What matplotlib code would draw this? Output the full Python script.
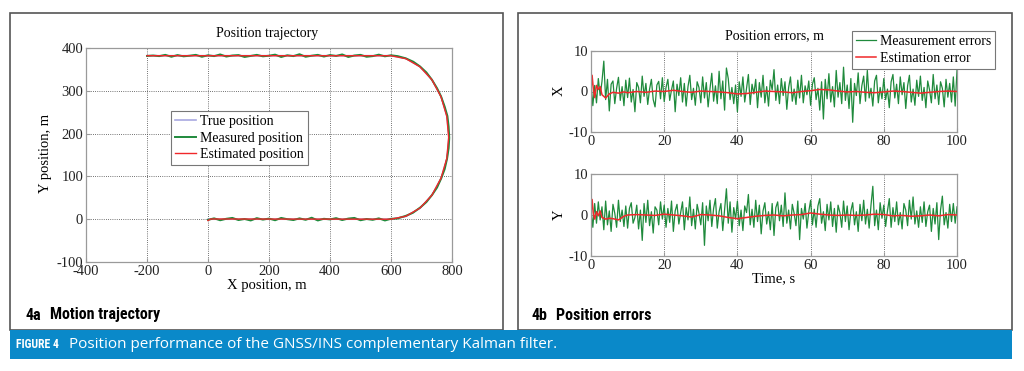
import numpy as np
import matplotlib.pyplot as plt
from matplotlib import font_manager
from matplotlib.patches import Rectangle

# ---- data ----
# true trajectory (waypoints)
true_x = [0, 600, 649, 695, 734, 764.5, 783.5, 790, 783.5, 764.5, 734, 695, 649, 600, -200]
true_y = [0, 0, 6.5, 25.6, 56, 95.5, 141.6, 191, 240.4, 286.5, 326, 356.4, 375.5, 382, 382]

# measured trajectory
meas_bot_x = np.linspace(0, 600, 31)
meas_bot_y = [-1.5, 2.0, -2.5, 1.0, 3.0, -2.0, 0.5, -3.0, 2.5, -1.0, 1.5, -2.5, 3.0, 0.0, -2.0, 2.0,
              -1.5, 3.5, -3.0, 1.0, -0.5, 2.5, -2.0, 1.5, 3.0, -2.5, 0.5, -1.5, 2.0, -3.0, 1.0]
meas_arc_x = [620, 649, 672, 697, 716, 735, 751, 765, 776, 784, 789, 791, 789, 785, 776, 764, 751, 734, 716, 695, 673, 648, 622]
meas_arc_y = [1.5, 8, 15, 28, 40, 57, 74, 96, 117, 142, 166, 190, 216, 241, 263, 287, 306, 326, 343, 357, 368, 376, 381]
meas_top_x = np.linspace(600, -200, 41)
meas_top_y = [383.0, 380.5, 384.5, 381.0, 379.5, 384.0, 382.5, 379.0, 385.0, 381.5, 383.5, 380.0, 384.0, 382.0,
              379.5, 385.5, 381.0, 383.0, 379.0, 384.5, 382.0, 380.5, 384.0, 381.5, 379.0, 383.5, 382.5, 380.0,
              385.0, 381.0, 383.0, 379.5, 384.0, 382.0, 380.5, 383.5, 379.5, 384.0, 381.0, 382.5, 381.5]

# estimated trajectory
est_traj_x = [0, 10, 600, 649, 695, 734, 764, 783, 789, 783, 764, 734, 695, 649, 600, -200]
est_traj_y = [-3, 0.5, 0, 7, 26, 56, 96, 142, 191, 240, 286, 326, 356, 375, 382, 382]

# measurement errors (t = 0 .. 100 s, 0.5 s step)
t_meas = np.arange(0, 100.5, 0.5)
meas_err_x = [
    2.0, -3.5, 1.5, -2.8, 3.2, -1.0, 2.5, 7.5, -2.0, 3.0, -4.8, 1.8, 2.6, -3.0, 0.8, 3.5, -2.2, 1.2, -3.5, 2.8,
    -1.5, 3.3, -2.6, 0.5, -5.0, 2.2, 1.0, -2.8, 3.8, -1.2, 2.0, -3.2, 0.6, 3.0, -2.0, -3.8, 1.6, 2.5, -1.8, 3.4,
    -2.5, 1.0, 3.0, -2.2, 0.4, 2.6, -5.0, 1.8, -1.0, 3.4, -2.6, 2.0, -3.6, 1.2, 4.0, -2.0, 0.8, -3.4, 2.4, 1.0,
    -2.8, 3.6, -1.6, 2.2, -3.8, 0.6, 4.5, -2.4, 1.4, -3.0, 5.0, -1.8, 2.6, -4.6, 5.8, 3.2, -2.0, 1.0, -3.0, 1.6,
    -5.0, 2.4, -1.2, 3.6, -2.6, 0.8, 4.2, -3.2, 1.8, -0.6, 3.0, -4.0, 2.2, -1.4, 4.0, -2.8, 1.2, -3.6, 2.8, 0.4,
    5.4, -2.2, 1.6, -3.0, 3.2, -1.0, 2.4, -4.4, 1.0, 3.6, -2.4, 0.6, -3.2, 2.8, -1.6, 4.0, -2.8, 1.4, -0.8, 2.6,
    -3.4, 1.8, 3.4, -2.0, 0.8, -4.6, 2.4, -6.8, 3.0, -1.8, 4.4, -2.6, 1.2, -3.8, 5.2, -1.4, 2.2, -3.0, 6.0, -2.2,
    1.6, -4.2, 3.2, -7.6, 2.0, -1.0, 4.6, -3.0, 1.4, 3.8, -2.4, 5.2, -1.6, 0.8, -3.6, 2.6, 4.0, -2.8, 1.0, -1.8,
    3.2, -2.0, 0.6, -4.0, 2.4, 4.2, -1.6, 1.8, -3.0, 3.6, -0.8, 2.2, -4.2, 1.4, 4.0, -2.6, 0.6, -3.4, 2.8, -1.2,
    3.8, -2.2, 1.0, -4.0, 2.6, 0.4, -2.8, 4.2, -1.8, 1.6, -3.2, 2.4, 0.8, -3.8, 3.0, -1.4, 2.0, -2.6, 3.6, -3.6,
    5.2]
meas_err_y = [
    1.5, -3.0, 2.8, -2.0, 3.2, -1.2, 2.0, -3.6, 3.4, -2.4, 1.0, -4.0, 2.6, 0.4, -3.0, 3.6, -1.6, 1.2, -2.8, 2.2,
    -3.2, 1.6, 3.0, -2.0, -0.6, 2.4, -3.4, 1.2, -6.2, 2.8, -1.8, 3.6, -2.6, 0.8, -4.4, 2.0, 1.2, -2.4, 3.2, -1.0,
    2.4, -3.0, 1.6, -1.8, 3.4, -4.0, 1.0, 2.6, -2.2, 0.6, 3.2, -3.6, 1.8, -1.2, 4.4, -2.6, 1.4, -3.4, 2.6, 0.4,
    -2.4, 3.0, -7.4, 2.2, -1.4, 3.6, -2.8, 1.6, 4.0, -3.2, 0.8, 2.8, -3.8, 1.4, 6.4, -2.0, 3.2, -4.2, 1.8, -1.0,
    3.4, -2.6, 1.2, -3.8, 2.2, 0.6, 5.0, -2.4, 1.4, -3.0, 3.6, -1.6, 2.4, -4.6, 1.0, 3.0, -2.2, 0.8, -3.6, 2.8,
    -5.0, 1.8, 3.2, -1.4, 2.4, -2.8, 5.4, -2.0, 1.2, -3.4, 2.6, 0.4, -2.6, 3.4, -6.0, 1.6, -1.0, 2.8, -3.2, 0.8,
    3.6, -2.4, 1.4, -3.0, 2.2, 4.0, -2.0, 0.8, -3.8, 2.6, -1.2, 3.2, -2.8, 1.6, -4.2, 2.4, 0.6, -3.0, 3.4, -1.6,
    2.2, -3.6, 1.0, 3.0, -2.4, 0.8, -4.0, 2.6, -1.4, 3.6, -2.2, 1.4, -3.2, 2.4, 7.0, -2.6, 1.2, -3.6, 3.0, -0.8,
    2.4, -2.8, 1.0, 4.0, -3.0, 1.8, -1.6, 3.2, -2.4, 0.6, -3.4, 2.8, 1.2, -2.6, 3.6, -1.0, 4.4, -2.2, 1.0, -3.0,
    2.0, -1.8, 3.2, -2.8, 0.8, 2.4, -4.0, 1.6, -2.2, 3.0, -6.0, 1.2, 4.6, -2.4, 0.6, -3.2, 2.6, -1.6, 2.8, -2.0,
    2.0]

# estimation errors
t_est = [0, 0.3, 0.6, 1.0, 1.5, 2.0, 2.5, 3.0, 4.0, 5.0, 6.0, 7.5, 9.0,
         10, 12.5, 15, 17.5, 20, 22.5, 25, 27.5, 30, 32.5, 35, 37.5, 40, 42.5, 45, 47.5,
         50, 52.5, 55, 57.5, 60, 62.5, 65, 67.5, 70, 72.5, 75, 77.5, 80, 82.5, 85, 87.5,
         90, 92.5, 95, 97.5, 100]
est_err_x = [0.5, 4.0, 1.0, -1.5, 1.5, 0.5, 1.2, -0.8, -1.6, -0.6, -0.2, -0.4, -0.1,
             -0.3, 0.0, -0.2, 0.1, 0.0, 0.3, 0.0, -0.2, 0.1, 0.0, -0.1, -0.3, -0.6, -0.5, -0.2, 0.1,
             0.0, -0.1, -0.3, 0.0, 0.2, 0.5, 0.4, 0.1, -0.1, 0.0, -0.2, -0.3, -0.1, 0.1, 0.0, -0.2,
             -0.4, -0.2, 0.0, 0.1, 0.0]
est_err_y = [0.5, 3.8, 0.5, -1.0, 0.8, -0.2, 1.0, -0.6, -1.0, -0.8, -0.9, -1.2, -0.3,
             0.0, 0.1, 0.0, -0.1, 0.2, 0.0, -0.2, -0.5, 0.1, 0.0, -0.2, -0.6, -0.9, -0.6, -0.3, -0.1,
             0.0, -0.2, 0.0, 0.1, 0.5, 0.2, 0.0, -0.1, 0.0, -0.1, 0.0, 0.2, 0.1, -0.2, -0.1, -0.3,
             -0.2, 0.0, -0.2, 0.1, 0.0]

# ---- style ----
GREEN = '#1f8a3c'
RED = '#f0282a'
LAVENDER = '#a8a8e0'
BLUE = '#0a89c9'
serif = ['Liberation Serif', 'DejaVu Serif']

# condensed bold font for the panel labels, if one is installed
names = sorted({f.name for f in font_manager.fontManager.ttflist})
narrow_name = None
for want in ['Liberation Sans Narrow', 'DejaVu Sans Condensed', 'Roboto Condensed', 'Open Sans Condensed',
             'Noto Sans Condensed', 'Arial Narrow']:
    if want in names:
        narrow_name = want
        break
if narrow_name is None:
    for n in names:
        if 'Narrow' in n or 'Condensed' in n:
            narrow_name = n
            break
narrow = ([narrow_name] if narrow_name else []) + ['Liberation Sans', 'DejaVu Sans']
lab_size = 11.5 if narrow_name else 10

plt.rcParams['font.family'] = serif
plt.rcParams['font.size'] = 10
plt.rcParams['axes.unicode_minus'] = False

W, H = 1024, 371
fig = plt.figure(figsize=(W / 100, H / 100), dpi=100)


def fx(px):
    return px / W


def fy(py):
    return 1 - py / H


def style_axes(ax):
    for s in ax.spines.values():
        s.set_color('#9a9a9a')
        s.set_linewidth(0.9)
    ax.tick_params(direction='in', length=3, color='#9a9a9a', labelsize=10.5,
                   labelcolor='#222222', pad=2)
    ax.grid(True, color='#444444', linestyle=(0, (1, 1.6)), linewidth=0.6)
    ax.set_axisbelow(True)


# panel frames and caption bar
fig.patches.append(Rectangle((fx(10), fy(330)), fx(493), 317 / H, transform=fig.transFigure,
                             fill=False, edgecolor='#555555', linewidth=1.2))
fig.patches.append(Rectangle((fx(518), fy(330)), fx(494), 317 / H, transform=fig.transFigure,
                             fill=False, edgecolor='#555555', linewidth=1.2))
fig.patches.append(Rectangle((fx(10), fy(359)), fx(1002), 29 / H, transform=fig.transFigure,
                             facecolor=BLUE, edgecolor='none'))

# ---- 4a trajectory ----
ax = fig.add_axes([fx(86), fy(262), fx(366), 214 / H])
ax.plot(true_x, true_y, color=LAVENDER, lw=1.2, label='True position')
mx = np.concatenate([meas_bot_x, meas_arc_x, meas_top_x])
my = np.concatenate([meas_bot_y, meas_arc_y, meas_top_y])
ax.plot(mx, my, color=GREEN, lw=1.4, label='Measured position')
ax.plot(est_traj_x, est_traj_y, color=RED, lw=1.0, label='Estimated position')
ax.set_xlim(-400, 800)
ax.set_ylim(-100, 400)
ax.set_xticks(np.arange(-400, 801, 200))
ax.set_yticks(np.arange(-100, 401, 100))
style_axes(ax)
leg = ax.legend(loc='upper left', bbox_to_anchor=(fx(171), fy(111)), bbox_transform=fig.transFigure,
                fancybox=False, edgecolor='#777777', framealpha=1, fontsize=10,
                handlelength=1.5, handletextpad=0.3, borderpad=0.3, labelspacing=0.25, borderaxespad=0)
leg.get_frame().set_linewidth(0.8)
fig.text(fx(267), fy(33), 'Position trajectory', ha='center', va='center', fontsize=10)
fig.text(fx(267), fy(286), 'X position, m', ha='center', va='center', fontsize=10.5)
fig.text(fx(46), fy(153), 'Y position, m', ha='center', va='center', rotation=90, fontsize=10.5)

# ---- 4b position errors ----
ax1 = fig.add_axes([fx(591), fy(132), fx(366), 81 / H])
ax2 = fig.add_axes([fx(591), fy(256), fx(366), 82 / H])
for a, me, ee in [(ax1, meas_err_x, est_err_x), (ax2, meas_err_y, est_err_y)]:
    a.plot(t_meas, me, color=GREEN, lw=0.9, label='Measurement errors')
    a.plot(t_est, ee, color=RED, lw=1.1, label='Estimation error')
    a.set_xlim(0, 100)
    a.set_ylim(-10, 10)
    a.set_xticks(np.arange(0, 101, 20))
    a.set_yticks([-10, 0, 10])
    style_axes(a)
    a.grid(axis='y', visible=False)

leg2 = ax1.legend(loc='upper left', bbox_to_anchor=(fx(852), fy(31)), bbox_transform=fig.transFigure,
                  fancybox=False, edgecolor='#777777', framealpha=1, fontsize=10,
                  handlelength=1.4, handletextpad=0.3, borderpad=0.3, labelspacing=0.25, borderaxespad=0)
leg2.get_frame().set_linewidth(0.8)
fig.text(fx(774), fy(36), 'Position errors, m', ha='center', va='center', fontsize=10)
fig.text(fx(774), fy(279), 'Time, s', ha='center', va='center', fontsize=10.5)
fig.text(fx(559), fy(91), 'X', ha='center', va='center', rotation=90, fontsize=10.5)
fig.text(fx(559), fy(215), 'Y', ha='center', va='center', rotation=90, fontsize=10.5)

# ---- panel labels and caption ----
fig.text(fx(25), fy(315), '4a', ha='left', va='center', fontsize=lab_size, weight='bold', family=narrow)
fig.text(fx(50), fy(315), 'Motion trajectory', ha='left', va='center', fontsize=lab_size, weight='bold', family=narrow)
fig.text(fx(531), fy(315), '4b', ha='left', va='center', fontsize=lab_size, weight='bold', family=narrow)
fig.text(fx(556), fy(315), 'Position errors', ha='left', va='center', fontsize=lab_size, weight='bold', family=narrow)
fig.text(fx(16), fy(344), 'FIGURE 4', ha='left', va='center', fontsize=8.5, weight='bold',
         family=narrow, color='white')
fig.text(fx(69), fy(344), 'Position performance of the GNSS/INS complementary Kalman filter.',
         ha='left', va='center', fontsize=11, family=['Open Sans', 'DejaVu Sans'], color='white')

fig.savefig('out.png', dpi=100)
